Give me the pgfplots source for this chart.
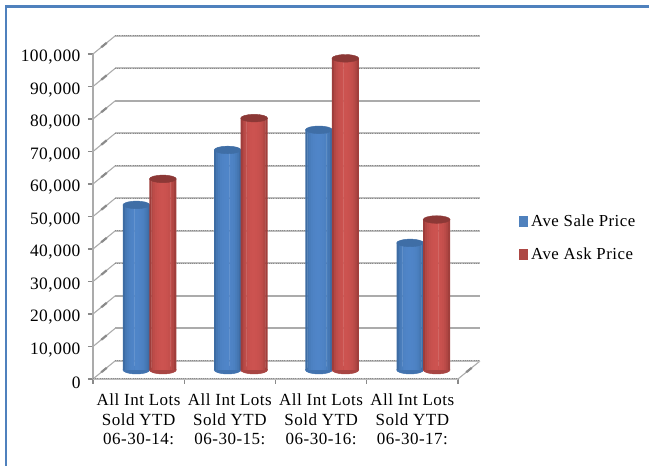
\documentclass[border=0pt]{standalone}
\usepackage{pgfplots}
\usepackage{pgfplotstable}
\usepackage{fontspec}
\setmainfont[LetterSpace=3]{Liberation Serif}
\pgfplotsset{compat=1.18}

\definecolor{framegray}{HTML}{ABABAB}
\definecolor{framelight}{HTML}{BDBDBD}
\definecolor{framedark}{HTML}{8A8A8A}
\definecolor{pageblue}{HTML}{4F81BD}
\definecolor{saleedge}{HTML}{376397}
\definecolor{salemid}{HTML}{4F85C8}
\definecolor{saletop}{HTML}{3F6EA6}
\definecolor{salerim}{HTML}{4273AF}
\definecolor{askedge}{HTML}{8F3634}
\definecolor{askmid}{HTML}{CC5350}
\definecolor{asktop}{HTML}{8C3836}
\definecolor{askrim}{HTML}{A84543}

% Average prices per year-to-date period
\pgfplotstableread{
x    sale   ask
0.5  50800  58800
1.5  67700  77500
2.5  73900  95900
3.5  39100  46300
}\prices

% Cylinder caps and bases, drawn at each bar's data point
\pgfdeclareplotmark{salecap}{\fill[saletop] (0,0) ellipse (13.4pt and 3.8pt);}
\pgfdeclareplotmark{askcap}{\fill[asktop] (0,0) ellipse (13.4pt and 3.8pt);}
\pgfdeclareplotmark{salebase}{\fill[salerim] (0,0) ellipse (13.4pt and 4pt);}
\pgfdeclareplotmark{askbase}{\fill[askrim] (0,0) ellipse (13.4pt and 4pt);}

% One vertical strip of a cylinder: column, mid colour, edge colour, mix, offset from the bar's centre
\newcommand\strip[5]{%
  \addplot[ybar, bar width=2.3pt, bar shift=#5pt, draw=none, fill=#2!#4!#3] table[x=x, y=#1] {\prices};}
% A shaded cylinder body built from narrow strips
\newcommand\cylinder[3]{%
  \strip{#1}{#2}{#3}{25}{-12.35}\strip{#1}{#2}{#3}{58}{-10.45}\strip{#1}{#2}{#3}{76}{-8.55}%
  \strip{#1}{#2}{#3}{87}{-6.65}\strip{#1}{#2}{#3}{94}{-4.75}\strip{#1}{#2}{#3}{98}{-2.85}%
  \strip{#1}{#2}{#3}{100}{-0.95}\strip{#1}{#2}{#3}{100}{0.95}\strip{#1}{#2}{#3}{98}{2.85}%
  \strip{#1}{#2}{#3}{94}{4.75}\strip{#1}{#2}{#3}{87}{6.65}\strip{#1}{#2}{#3}{76}{8.55}%
  \strip{#1}{#2}{#3}{58}{10.45}\strip{#1}{#2}{#3}{30}{12.35}}

\pgfplotsset{
  priceaxis/.style={
    scale only axis, width=365pt, height=325pt, anchor=south west,
    xmin=0, xmax=4, ymin=0, ymax=100000, clip=false,
  },
  wall/.style={framegray, line width=2pt, forget plot},
  rough/.style={framelight, line width=2pt, forget plot,
    postaction={draw=framedark, line width=1pt, dash pattern=on 1pt off 1.2pt}},
  knob/.style={framedark, line width=2.2pt, forget plot},
  strut/.style={framegray, line width=1.1pt, forget plot},
}

\begin{document}
\begin{tikzpicture}[x=1pt,y=1pt]
\useasboundingbox (0,0) rectangle (649,466);
\draw[pageblue, line width=2.6pt] (6,0) -- (6,459.5) -- (649,459.5);

\begin{axis}[priceaxis, at={(93pt,87pt)},
  axis x line*=bottom, axis y line*=left,
  axis line style={framegray, line width=1.4pt},
  ytick={0,10000,...,100000},
  /pgf/number format/fixed,
  /pgf/number format/1000 sep={,},
  /pgf/number format/assume math mode=true,
  scaled y ticks=false,
  tick style={framedark, line width=1.2pt},
  major tick length=5pt, minor tick length=5pt,
  tick align=outside,
  xtick={0.5,1.5,2.5,3.5},
  x tick style={draw=none},
  minor xtick={0,1,2,3,4},
  minor x tick style={draw=framedark, line width=1.2pt},
  xticklabels={{All Int Lots\\Sold YTD\\06-30-14:},{All Int Lots\\Sold YTD\\06-30-15:},{All Int Lots\\Sold YTD\\06-30-16:},{All Int Lots\\Sold YTD\\06-30-17:}},
  xticklabel style={align=center, font=\fontsize{17}{19.5}\selectfont, yshift=-6.5pt},
  yticklabel style={font=\fontsize{17.4}{20}\selectfont, xshift=-4pt, yshift=-3.5pt},
  legend style={at={(axis cs:4.672,50650)}, anchor=north west, draw=none, fill=none,
    font=\fontsize{16.8}{19}\selectfont, row sep=20pt, column sep=3.5pt,
    inner sep=0pt, outer sep=0pt, nodes={inner sep=0pt}},
  legend cell align=left,
]
% Side wall struts
\addplot[strut] coordinates {(0,0) (0.241,5540)};
\addplot[strut] coordinates {(0,10000) (0.241,15540)};
\addplot[strut] coordinates {(0,20000) (0.241,25540)};
\addplot[strut] coordinates {(0,30000) (0.241,35540)};
\addplot[strut] coordinates {(0,40000) (0.241,45540)};
\addplot[strut] coordinates {(0,50000) (0.241,55540)};
\addplot[strut] coordinates {(0,60000) (0.241,65540)};
\addplot[strut] coordinates {(0,70000) (0.241,75540)};
\addplot[strut] coordinates {(0,80000) (0.241,85540)};
\addplot[strut] coordinates {(0,90000) (0.241,95540)};
\addplot[strut] coordinates {(0,100000) (0.241,105540)};
% Floor edges and back wall gridlines
\addplot[rough] coordinates {(0,0) (4,0)};
\addplot[strut] coordinates {(4,0) (4.241,5540)};
\addplot[rough] coordinates {(0.241,5540) (4.241,5540)};
\addplot[wall]  coordinates {(0.241,15540) (4.241,15540)};
\addplot[wall]  coordinates {(0.241,25540) (4.241,25540)};
\addplot[rough] coordinates {(0.241,35540) (4.241,35540)};
\addplot[rough] coordinates {(0.241,45540) (4.241,45540)};
\addplot[rough] coordinates {(0.241,55540) (4.241,55540)};
\addplot[rough] coordinates {(0.241,65540) (4.241,65540)};
\addplot[rough] coordinates {(0.241,75540) (4.241,75540)};
\addplot[wall]  coordinates {(0.241,85540) (4.241,85540)};
\addplot[rough] coordinates {(0.241,95540) (4.241,95540)};
\addplot[rough] coordinates {(0.241,105540) (4.241,105540)};
% Thickened middle of each side wall strut
\addplot[knob] coordinates {(0.09,2050) (0.15,3450)};
\addplot[knob] coordinates {(0.09,12050) (0.15,13450)};
\addplot[knob] coordinates {(0.09,22050) (0.15,23450)};
\addplot[knob] coordinates {(0.09,32050) (0.15,33450)};
\addplot[knob] coordinates {(0.09,42050) (0.15,43450)};
\addplot[knob] coordinates {(0.09,52050) (0.15,53450)};
\addplot[knob] coordinates {(0.09,62050) (0.15,63450)};
\addplot[knob] coordinates {(0.09,72050) (0.15,73450)};
\addplot[knob] coordinates {(0.09,82050) (0.15,83450)};
\addplot[knob] coordinates {(0.09,92050) (0.15,93450)};
\addplot[knob] coordinates {(0.09,102050) (0.15,103450)};
\addplot[knob] coordinates {(4.09,2050) (4.15,3450)};
% Legend keys
\addlegendimage{legend image code/.code={\fill[pageblue] (0pt,-5pt) rectangle (8pt,5pt);}}
\addlegendentry{Ave Sale Price}
\addlegendimage{legend image code/.code={\fill[askmid!85!black] (0pt,-5pt) rectangle (8pt,5pt);}}
\addlegendentry{Ave Ask Price}
\end{axis}

% Rounded feet of the cylinders, which stand halfway into the floor
\begin{axis}[priceaxis, at={(104pt,96pt)}, hide axis]
\addplot[only marks, mark=salebase, xshift=-13.25pt] table[x=x, y expr=0] {\prices};
\addplot[only marks, mark=askbase, xshift=13.25pt] table[x=x, y expr=0] {\prices};
\end{axis}

% Bodies of the first series
\begin{axis}[priceaxis, at={(104pt,96pt)}, hide axis, every axis plot post/.append style={xshift=-13.25pt}]
\cylinder{sale}{salemid}{saleedge}
\addplot[only marks, mark=salecap] table[x=x, y=sale] {\prices};
\end{axis}

% Bodies of the second series
\begin{axis}[priceaxis, at={(104pt,96pt)}, hide axis, every axis plot post/.append style={xshift=13.25pt}]
\cylinder{ask}{askmid}{askedge}
\addplot[only marks, mark=askcap] table[x=x, y=ask] {\prices};
\end{axis}
\end{tikzpicture}
\end{document}
